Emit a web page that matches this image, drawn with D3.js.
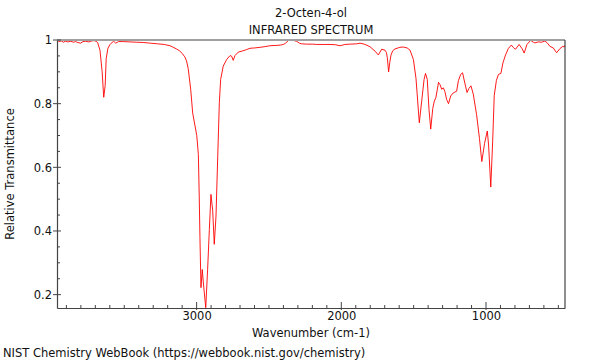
<!DOCTYPE html>
<html>
<head>
<meta charset="utf-8">
<script src="https://cdn.jsdelivr.net/npm/d3@7"></script>
<style>
  html, body { margin: 0; padding: 0; background: #fff; }
  svg { display: block; font-family: "DejaVu Sans", sans-serif; }
</style>
</head>
<body>
<svg id="chart" width="600" height="360"></svg>
<script>
const titleLines = ["2-Octen-4-ol", "INFRARED SPECTRUM"];
const xLabel = "Wavenumber (cm-1)";
const yLabel = "Relative Transmittance";
const footer = "NIST Chemistry WebBook (https://webbook.nist.gov/chemistry)";
const xDomain = [3965, 454];
const yDomain = [0.158, 1.0];
const xTicks = [3000, 2000, 1000];
const yTicks = [0.2, 0.4, 0.6, 0.8, 1];
// [wavenumber (cm-1), relative transmittance]
const spectrum = [
  [3965,1.0],[3950,0.995],[3935,0.997],[3920,0.993],[3908,0.996],[3890,0.994],[3870,0.996],
  [3850,0.993],[3837,0.995],[3820,0.992],[3802,0.99],[3785,0.995],[3767,0.996],[3745,0.994],
  [3725,0.997],[3708,0.998],[3695,0.996],[3684,0.992],[3668,0.968],[3653,0.9],[3642,0.82],
  [3632,0.857],[3625,0.942],[3613,0.974],[3600,0.985],[3590,0.99],[3573,0.996],[3559,0.99],
  [3540,0.995],[3507,0.995],[3460,0.994],[3413,0.993],[3365,0.992],[3318,0.99],[3270,0.988],
  [3224,0.986],[3184,0.982],[3165,0.978],[3140,0.972],[3118,0.966],[3100,0.958],[3082,0.947],
  [3070,0.935],[3058,0.91],[3041,0.845],[3027,0.77],[3011,0.73],[2999,0.70],[2988,0.64],
  [2982,0.51],[2977,0.38],[2970,0.222],[2961,0.279],[2954,0.24],[2937,0.159],[2924,0.279],
  [2912,0.405],[2901,0.515],[2889,0.465],[2878,0.358],[2866,0.447],[2854,0.635],[2843,0.803],
  [2834,0.876],[2816,0.918],[2792,0.939],[2769,0.951],[2758,0.949],[2747,0.936],[2735,0.951],
  [2712,0.962],[2680,0.966],[2654,0.97],[2631,0.974],[2600,0.975],[2562,0.977],[2530,0.979],
  [2493,0.982],[2450,0.983],[2420,0.984],[2401,0.986],[2385,0.99],[2367,0.998],[2355,1.0],
  [2343,0.999],[2330,1.0],[2320,0.997],[2308,0.996],[2290,0.99],[2274,0.988],[2240,0.987],
  [2200,0.987],[2170,0.986],[2120,0.986],[2078,0.986],[2040,0.985],[2009,0.982],[1990,0.984],
  [1975,0.986],[1940,0.987],[1894,0.988],[1871,0.99],[1850,0.988],[1836,0.986],[1802,0.979],
  [1767,0.965],[1744,0.953],[1721,0.971],[1698,0.968],[1688,0.96],[1682,0.944],[1673,0.90],
  [1665,0.93],[1657,0.952],[1645,0.966],[1629,0.972],[1595,0.977],[1572,0.978],[1545,0.975],
  [1525,0.968],[1502,0.939],[1484,0.88],[1461,0.74],[1444,0.81],[1428,0.876],[1418,0.895],
  [1406,0.876],[1394,0.782],[1382,0.72],[1368,0.785],[1357,0.808],[1346,0.82],[1328,0.867],
  [1318,0.86],[1306,0.845],[1295,0.85],[1284,0.838],[1272,0.813],[1259,0.80],[1244,0.824],
  [1226,0.834],[1203,0.839],[1191,0.872],[1175,0.892],[1162,0.897],[1145,0.862],[1131,0.835],
  [1118,0.848],[1104,0.856],[1088,0.83],[1065,0.765],[1045,0.69],[1029,0.618],[1010,0.675],
  [991,0.714],[982,0.67],[967,0.538],[954,0.68],[943,0.826],[928,0.873],[914,0.892],
  [897,0.895],[883,0.928],[865,0.953],[846,0.973],[825,0.984],[810,0.976],[796,0.971],
  [771,0.986],[751,0.973],[736,0.959],[717,0.986],[691,0.999],[673,0.993],[662,0.991],
  [639,0.994],[615,0.993],[592,0.997],[575,0.99],[558,0.98],[535,0.975],[512,0.96],
  [489,0.973],[470,0.98],[460,0.978],[454,0.984]
];

const FS = 11.5;
const svg = d3.select("#chart");
const m = { left: 57, right: 565, top: 40, bottom: 308 };
const x = d3.scaleLinear().domain(xDomain).range([m.left, m.right]);
const y = d3.scaleLinear().domain(yDomain).range([m.bottom, m.top]);

svg.append("defs").append("clipPath").attr("id", "clip")
  .append("rect").attr("x", m.left).attr("y", m.top)
  .attr("width", m.right - m.left).attr("height", m.bottom - m.top);

// spectrum line
svg.append("path")
  .datum(spectrum)
  .attr("clip-path", "url(#clip)")
  .attr("fill", "none")
  .attr("stroke", "#ff0000")
  .attr("stroke-width", 0.9)
  .attr("stroke-linejoin", "round")
  .attr("d", d3.line().x(d => x(d[0])).y(d => y(d[1])));

// frame
svg.append("line").attr("x1", m.left).attr("x2", m.right).attr("y1", m.top).attr("y2", m.top)
  .attr("stroke", "#a0a0a0").attr("stroke-width", 2);
svg.append("line").attr("x1", m.right).attr("x2", m.right).attr("y1", m.top).attr("y2", m.bottom)
  .attr("stroke", "#444").attr("stroke-width", 1.2);

// x axis
const xMinor = d3.range(3900, 400, -100).filter(v => v <= xDomain[0] && v >= xDomain[1]);
const xAxis = d3.axisBottom(x).tickValues(xTicks).tickSize(0).tickPadding(4).tickFormat(d3.format("d"));
const gx = svg.append("g").attr("transform", `translate(0,${m.bottom})`).call(xAxis);
gx.select(".domain").attr("stroke", "#444").attr("stroke-width", 1.2);
gx.selectAll("text").attr("font-size", FS).attr("fill", "#111").attr("font-family", "DejaVu Sans");
gx.selectAll(".minor").data(xMinor).enter().append("line")
  .attr("x1", d => x(d)).attr("x2", d => x(d))
  .attr("y1", d => (d % 1000 === 0) ? -6 : -3).attr("y2", d => (d % 1000 === 0) ? 2 : 0)
  .attr("stroke", "#444").attr("stroke-width", 1);

// y axis
const yMinor = d3.range(0.2, 1.0001, 0.05).map(v => +v.toFixed(2));
const yAxis = d3.axisLeft(y).tickValues(yTicks).tickSize(0).tickPadding(5).tickFormat(d3.format(""));
const gy = svg.append("g").attr("transform", `translate(${m.left},0)`).call(yAxis);
gy.select(".domain").attr("stroke", "#444").attr("stroke-width", 1.2);
gy.selectAll("text").attr("font-size", FS).attr("fill", "#111").attr("font-family", "DejaVu Sans");
gy.selectAll(".minor").data(yMinor).enter().append("line")
  .attr("y1", d => y(d)).attr("y2", d => y(d))
  .attr("x1", d => (Math.round(d * 100) % 20 === 0) ? -4 : 0)
  .attr("x2", d => (Math.round(d * 100) % 20 === 0) ? 4 : 3)
  .attr("stroke", "#444").attr("stroke-width", 1);

// titles and labels
const cx = (m.left + m.right) / 2;
svg.append("text").attr("x", cx).attr("y", 17).attr("text-anchor", "middle")
  .attr("font-size", FS).attr("fill", "#111").text(titleLines[0]);
svg.append("text").attr("x", cx).attr("y", 34).attr("text-anchor", "middle")
  .attr("font-size", FS).attr("fill", "#111").text(titleLines[1]);
svg.append("text").attr("x", cx).attr("y", 337).attr("text-anchor", "middle")
  .attr("font-size", FS).attr("fill", "#111").text(xLabel);
svg.append("text").attr("transform", `translate(14,${(m.top + m.bottom) / 2}) rotate(-90)`)
  .attr("text-anchor", "middle").attr("font-size", FS).attr("fill", "#111").text(yLabel);
svg.append("text").attr("x", 3).attr("y", 357)
  .attr("font-size", FS).attr("fill", "#111").text(footer);
</script>
</body>
</html>
